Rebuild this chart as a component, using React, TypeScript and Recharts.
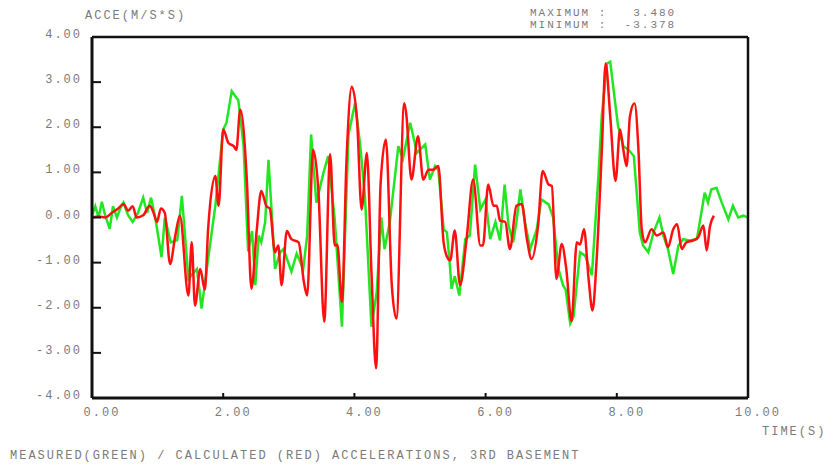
import { LineChart, Line, XAxis, YAxis } from 'recharts';

// time (s) and acceleration (m/s²)
const greenTime = [
  0.0, 0.05, 0.1, 0.15, 0.2, 0.27, 0.32, 0.38, 0.43, 0.48, 0.55, 0.62, 0.7, 0.78, 0.84, 0.9, 0.97,
  1.06, 1.11, 1.2, 1.3, 1.37, 1.47, 1.6, 1.67, 1.77, 1.88, 2.0, 2.05, 2.13, 2.23, 2.31, 2.38, 2.44,
  2.49, 2.54, 2.58, 2.64, 2.69, 2.74, 2.79, 2.87, 2.92, 3.04, 3.12, 3.22, 3.28, 3.34, 3.42, 3.53,
  3.6, 3.7, 3.81, 3.91, 4.01, 4.09, 4.16, 4.26, 4.34, 4.41, 4.46, 4.54, 4.67, 4.74, 4.85, 4.92,
  4.95, 5.08, 5.15, 5.23, 5.28, 5.36, 5.41, 5.46, 5.48, 5.53, 5.6, 5.69, 5.76, 5.84, 5.92, 6.0,
  6.07, 6.15, 6.22, 6.29, 6.35, 6.42, 6.47, 6.53, 6.6, 6.68, 6.78, 6.85, 6.96, 7.03, 7.11, 7.18,
  7.22, 7.29, 7.34, 7.44, 7.52, 7.62, 7.72, 7.77, 7.85, 7.9, 7.97, 8.02, 8.1, 8.18, 8.26, 8.3,
  8.35, 8.4, 8.48, 8.56, 8.65, 8.71, 8.78, 8.86, 8.94, 9.01, 9.11, 9.22, 9.29, 9.34, 9.39, 9.44,
  9.52, 9.6, 9.7, 9.77, 9.85, 9.93, 10.0,
];
const greenAcc = [
  0.05, 0.25, 0.0, 0.35, 0.05, -0.25, 0.25, 0.0, 0.2, 0.33, 0.05, -0.1, 0.1, 0.44, 0.1, 0.44, -0.05,
  -0.88, 0.0, -0.55, -0.5, 0.48, -1.36, -1.14, -2.02, -0.92, 0.26, 1.95, 2.1, 2.8, 2.6, 1.6, -0.75, -0.3,
  -1.5, -0.4, -0.55, -0.1, 1.28, 0.1, -1.14, -0.77, -0.7, -1.2, -0.8, -1.14, -0.4, 1.84, 0.33, 1.0,
  1.36, -0.04, -2.42, 1.84, 2.53, 1.58, 0.48, -2.42, -1.65, 0.0, -0.7, -0.1, 1.58, 1.3, 2.1, 1.65,
  1.43, 1.62, 0.84, 1.14, 1.05, -0.26, -0.33, -1.14, -1.58, -1.3, -1.73, -0.48, -0.4, 1.17, 0.18, 0.4,
  -0.48, -0.1, -0.51, 0.73, -0.18, -0.55, -0.1, 0.62, -0.1, -0.7, -0.26, 0.4, 0.29, 0.0, -1.14, -1.5,
  -1.6, -2.35, -2.2, -0.77, -0.85, -1.28, 0.92, 2.24, 3.41, 3.45, 2.6, 2.02, 1.58, 1.5, 1.36, 0.62,
  -0.33, -0.62, -0.77, -0.33, 0.0, -0.4, -0.7, -1.25, -0.62, -0.48, -0.51, -0.48, 0.11, 0.55, 0.33, 0.62,
  0.66, 0.33, -0.04, 0.26, 0.0, 0.04, 0.0,
];

const redTime = [
  0.0, 0.1, 0.2, 0.3, 0.4, 0.48, 0.55, 0.62, 0.68, 0.78, 0.88, 0.94, 0.99, 1.05, 1.11, 1.19, 1.27,
  1.34, 1.47, 1.52, 1.57, 1.65, 1.72, 1.77, 1.88, 1.93, 2.0, 2.08, 2.16, 2.2, 2.26, 2.36, 2.43, 2.51,
  2.58, 2.66, 2.71, 2.79, 2.84, 2.89, 2.97, 3.04, 3.15, 3.23, 3.28, 3.37, 3.45, 3.54, 3.63, 3.7,
  3.74, 3.81, 3.88, 3.96, 4.04, 4.11, 4.19, 4.26, 4.33, 4.4, 4.48, 4.57, 4.64, 4.76, 4.79, 4.87,
  4.97, 5.05, 5.13, 5.2, 5.28, 5.36, 5.43, 5.46, 5.53, 5.61, 5.71, 5.81, 5.92, 5.96, 6.04, 6.12,
  6.17, 6.22, 6.3, 6.37, 6.47, 6.55, 6.63, 6.7, 6.8, 6.87, 6.96, 7.01, 7.08, 7.16, 7.23, 7.31,
  7.39, 7.44, 7.5, 7.57, 7.63, 7.69, 7.77, 7.83, 7.9, 7.98, 8.05, 8.1, 8.15, 8.2, 8.27, 8.33,
  8.38, 8.43, 8.53, 8.61, 8.71, 8.78, 8.86, 8.92, 8.99, 9.06, 9.16, 9.24, 9.32, 9.37, 9.42, 9.48,
];
const redAcc = [
  0.0, 0.02, 0.0, 0.1, 0.2, 0.3, 0.15, 0.25, 0.0, 0.05, 0.26, 0.1, -0.1, 0.2, 0.1, -1.03, -0.4,
  0.04, -1.73, -0.55, -1.95, -1.14, -1.6, -0.26, 0.92, 0.26, 1.95, 1.65, 1.58, 1.5, 2.39, 0.84, -1.58, -0.3,
  0.59, 0.25, 0.2, -0.77, -0.62, -1.5, -0.3, -0.48, -0.55, -1.43, -1.73, 1.5, 0.62, -2.31, 1.4, -0.62,
  -0.6, -1.87, 1.28, 2.9, 2.17, 0.18, 1.43, -1.21, -3.34, 0.77, 1.73, -1.5, -2.24, 2.53, 2.3, 0.84,
  1.8, 0.84, 1.06, 1.06, 1.14, -0.55, -0.92, -0.95, -0.29, -1.5, -0.48, 0.84, -0.62, -0.62, 0.73, 0.26,
  0.26, -0.07, -0.1, -0.7, 0.26, 0.3, -0.48, -0.92, -0.18, 1.03, 0.73, 0.7, -1.36, -0.59, -1.14, -2.3,
  -0.55, -0.6, -0.26, -1.36, -2.06, -1.0, 1.43, 3.41, 2.24, 0.81, 1.95, 1.5, 1.14, 2.24, 2.53, 1.5,
  -0.26, -0.55, -0.26, -0.4, -0.33, -0.66, -0.26, -0.15, -0.7, -0.55, -0.51, -0.44, -0.18, -0.73, -0.2, 0.04,
];

const timeTicks = [0, 2, 4, 6, 8, 10];
const innerTimeTicks = [2, 4, 6, 8];
const accTicks = [-4, -3, -2, -1, 0, 1, 2, 3, 4];

const green = greenTime.map((t, i) => ({ t, v: greenAcc[i] }));
const red = redTime.map((t, i) => ({ t, v: redAcc[i] }));

const FONT = '"Liberation Mono", "DejaVu Sans Mono", monospace';
const TEXT = '#7a7a7a';

const YTick = ({ x, y, payload }: any) => (
  <text x={x} y={y - 2} textAnchor="end" dominantBaseline="central" fontFamily={FONT} fontSize={12} letterSpacing={2} fill={TEXT}>
    {payload.value.toFixed(2)}
  </text>
);

const XTick = ({ x, y, payload }: any) => (
  <text x={x + 10} y={y} textAnchor="middle" dominantBaseline="central" fontFamily={FONT} fontSize={12} letterSpacing={2} fill={TEXT}>
    {payload.value.toFixed(2)}
  </text>
);

const label = (left: number, top: number, size = 12): React.CSSProperties => ({
  position: 'absolute',
  left,
  top,
  fontFamily: FONT,
  fontSize: size,
  lineHeight: `${size}px`,
  letterSpacing: 2,
  color: TEXT,
  whiteSpace: 'pre',
});

export default function App() {
  return (
    <div style={{ position: 'fixed', left: 0, top: 0, width: 825, height: 465, background: '#fff', overflow: 'hidden' }}>
      <LineChart width={825} height={465} data={green} margin={{ top: 32, right: 67, left: 52, bottom: 37 }}>
        <XAxis
          dataKey="t"
          type="number"
          domain={[0, 10]}
          ticks={timeTicks}
          interval={0}
          allowDataOverflow
          axisLine={{ stroke: '#111', strokeWidth: 3 }}
          tickLine={{ stroke: '#111', strokeWidth: 2 }}
          tickSize={-5}
          tickMargin={20}
          height={30}
          tick={<XTick />}
        />
        <XAxis
          xAxisId="top"
          orientation="top"
          dataKey="t"
          type="number"
          domain={[0, 10]}
          ticks={innerTimeTicks}
          interval={0}
          axisLine={{ stroke: '#111', strokeWidth: 2.5 }}
          tickLine={{ stroke: '#111', strokeWidth: 2 }}
          tickSize={-4}
          height={5}
          tick={false}
        />
        <YAxis
          type="number"
          domain={[-4, 4]}
          ticks={accTicks}
          interval={0}
          allowDataOverflow
          axisLine={{ stroke: '#111', strokeWidth: 3 }}
          tickLine={{ stroke: '#111', strokeWidth: 2 }}
          tickSize={-9}
          tickMargin={19}
          width={40}
          tick={<YTick />}
        />
        <YAxis
          yAxisId="right"
          orientation="right"
          type="number"
          domain={[-4, 4]}
          ticks={accTicks}
          interval={0}
          axisLine={{ stroke: '#111', strokeWidth: 2.5 }}
          tickLine={{ stroke: '#111', strokeWidth: 2 }}
          tickSize={-9}
          width={10}
          tick={false}
        />
        <Line data={green} dataKey="v" type="linear" stroke="#22e622" strokeWidth={2.5} dot={false} isAnimationActive={false} />
        <Line data={red} dataKey="v" type="monotone" stroke="#ff1010" strokeWidth={2.5} dot={false} isAnimationActive={false} />
      </LineChart>
      <div style={label(85, 10)}>ACCE(M/S*S)</div>
      <div style={label(530, 8, 11)}>{'MAXIMUM :   3.480'}</div>
      <div style={label(530, 20, 11)}>{'MINIMUM :  -3.378'}</div>
      <div style={label(762, 426)}>TIME(S)</div>
      <div style={label(10, 450)}>MEASURED(GREEN) / CALCULATED (RED) ACCELERATIONS, 3RD BASEMENT</div>
    </div>
  );
}
